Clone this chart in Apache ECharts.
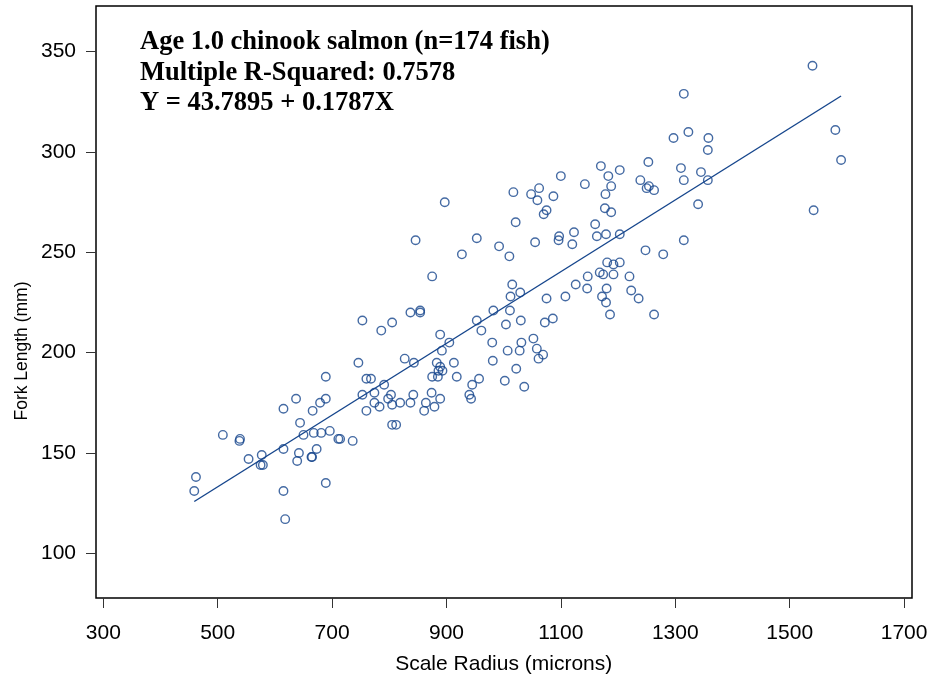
<!DOCTYPE html>
<html>
<head>
<meta charset="utf-8">
<script src="https://cdn.jsdelivr.net/npm/echarts@6/dist/echarts.min.js"></script>
<style>html,body{margin:0;padding:0;background:#fff}#c{width:934px;height:680px}</style>
</head>
<body>
<div id="c"></div>
<script>
// Scale radius (microns)
const scaleRadius = [
 689,760,768,791,637,689,679,753,774,803,798,774,783,805,819,615,666,760,805,812,644,509,539,538,650,668,681,696,711,714,736,554,577,575,579,615,642,639,664,665,673,462,459,615,689,618,
 753,786,805,746,827,
 1070,1075,1177,1188,1021,1160,846,953,992,1010,1055,1097,1096,1123,1120,1163,1179,1203,927,875,1181,1192,1203,1168,1174,1192,1015,1029,1012,1126,1147,1146,1180,1075,1108,1172,1179,1186,837,854,854,982,1011,953,1030,1004,1086,1072,961,889,905,892,980,1031,1052,1058,1069,1061,1007,1028,981,913,843,883,889,893,886,1022,
 875,885,918,957,945,1002,1036,842,874,889,940,943,837,864,879,861,
 897,1017,1048,1062,1059,1087,1100,1142,1170,1183,1203,1188,1178,
 1540,1315,1580,1590,1323,1297,1358,1357,1253,1310,1345,1315,1357,1239,1250,1254,1263,1340,1542,
 1248,1279,1315,1220,1223,1236,1263
];
// Fork length (mm)
const forkLength = [
 188,187,187,184,177,177,175,179,180,179,177,175,173,174,175,172,171,171,164,164,165,159,157,156,159,160,160,161,157,157,156,147,149,144,144,152,150,146,148,148,152,138,131,131,135,117,
 216,211,215,195,197,
 269,271,272,270,265,264,256,257,253,248,255,258,256,260,254,258,259,259,249,238,245,244,245,240,239,239,234,230,228,234,238,232,232,227,228,228,225,219,220,221,220,221,221,216,216,214,217,215,211,209,205,201,205,205,207,202,199,197,201,201,196,195,195,195,193,191,191,192,
 188,188,188,187,184,186,183,179,180,177,179,177,175,175,173,171,
 275,280,279,282,276,278,288,284,293,288,291,283,279,
 343,329,311,296,310,307,307,301,295,292,290,286,286,286,282,283,281,274,271,
 251,249,256,238,231,227,219
];
const fitIntercept = 43.7895;
const fitSlope = 0.1787;
const xTicks = [300, 1700, 200];   // min, max, step
const yTicks = [100, 350, 50];
const titleLines = ['Age 1.0 chinook salmon (n=174 fish)', 'Multiple R-Squared: 0.7578', 'Y = 43.7895 + 0.1787X'];
const xTitle = 'Scale Radius (microns)';
const yTitle = 'Fork Length (mm)';

const pts = scaleRadius.map((x, i) => [x, forkLength[i]]);
const xMin = Math.min(...scaleRadius), xMax = Math.max(...scaleRadius);
const fitLine = [[xMin, fitIntercept + fitSlope * xMin], [xMax, fitIntercept + fitSlope * xMax]];

const blue = '#15458c';
const chart = echarts.init(document.getElementById('c'), null, {renderer: 'canvas'});
chart.setOption({
  animation: false,
  backgroundColor: '#fff',
  grid: [
    {left: 96, top: 6, width: 816, height: 592, show: true, borderColor: '#000', borderWidth: 1.5, backgroundColor: 'transparent'},
    {left: 103.3, top: 51.7, width: 800.8, height: 501.6}
  ],
  xAxis: [
    {gridIndex: 0, type: 'value', min: 287.2, max: 1714, show: false},
    {gridIndex: 1, type: 'value', min: xTicks[0], max: xTicks[1], interval: xTicks[2], position: 'bottom', offset: 44.7,
     axisLine: {show: false}, splitLine: {show: false},
     axisTick: {show: true, inside: false, length: 10, lineStyle: {color: '#333', width: 1}},
     axisLabel: {fontFamily: 'Liberation Sans', fontSize: 21, color: '#000', margin: 25, formatter: v => String(v)}}
  ],
  yAxis: [
    {gridIndex: 0, type: 'value', min: 77.7, max: 372.8, show: false},
    {gridIndex: 1, type: 'value', min: yTicks[0], max: yTicks[1], interval: yTicks[2], position: 'left', offset: 7.3,
     axisLine: {show: false}, splitLine: {show: false},
     axisTick: {show: true, inside: false, length: 10, lineStyle: {color: '#333', width: 1}},
     axisLabel: {fontFamily: 'Liberation Sans', fontSize: 21, color: '#000', margin: 20, formatter: v => String(v)}}
  ],
  series: [
    {type: 'scatter', xAxisIndex: 0, yAxisIndex: 0, data: pts, symbol: 'circle', symbolSize: 8.5,
     itemStyle: {color: 'rgba(0,0,0,0)', borderColor: blue, borderWidth: 1.4}, z: 3},
    {type: 'line', xAxisIndex: 0, yAxisIndex: 0, data: fitLine, showSymbol: false, symbol: 'none',
     lineStyle: {color: blue, width: 1.4}, z: 2}
  ],
  graphic: [
    ...titleLines.map((t, i) => ({type: 'text', x: 140, y: 42.5 + i * 30.5,
      style: {text: t, font: 'bold 26.5px "Liberation Serif"', fill: '#000', verticalAlign: 'middle', align: 'left'}})),
    {type: 'text', x: 503.7, y: 664, style: {text: xTitle, font: '21px "Liberation Sans"', fill: '#000', align: 'center', verticalAlign: 'middle'}},
    {type: 'text', x: 22, y: 351, rotation: Math.PI / 2, style: {text: yTitle, font: '17.5px "Liberation Sans"', fill: '#000', align: 'center', verticalAlign: 'middle'}}
  ]
});
</script>
</body>
</html>
